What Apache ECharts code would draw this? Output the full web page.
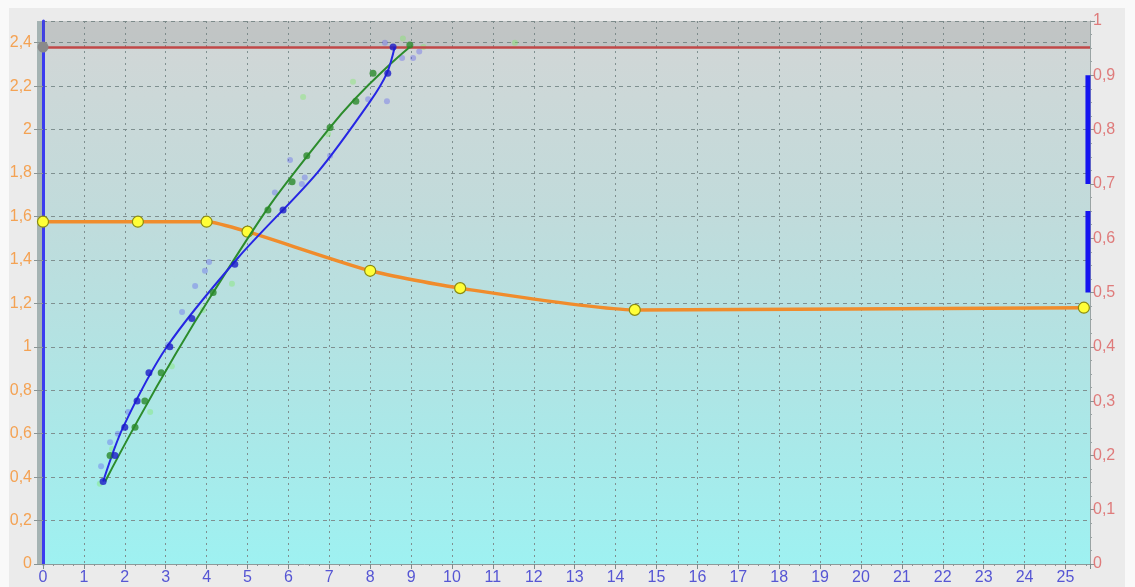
<!DOCTYPE html>
<html>
<head>
<meta charset="utf-8">
<script src="https://cdn.jsdelivr.net/npm/echarts@6.0.0/dist/echarts.min.js"></script>
<style>
  html, body { margin: 0; padding: 0; background: #f9f9f9; }
  #frame { position: absolute; left: 9px; top: 8px; width: 1116px; height: 579px; background: #ebebeb; }
  #chart { position: absolute; left: 0; top: 0; width: 1135px; height: 587px; }
</style>
</head>
<body>
<div id="frame"></div>
<div id="chart"></div>
<script>
// Orange profile curve (left axis) with its yellow nodes
const orangeX = [0, 2.32, 4.0, 5.0, 8.0, 10.2, 14.47, 25.45];
const orangeY = [1.576, 1.576, 1.576, 1.53, 1.35, 1.27, 1.17, 1.18];

// Blue fitted curve and its measured points
const blueFitX = [1.47, 1.96, 3.03, 4.77, 6.7, 8.0, 8.41, 8.6];
const blueFitY = [0.38, 0.63, 1.0, 1.41, 1.80, 2.13, 2.26, 2.38];
const blueDotX = [1.47, 1.76, 2.0, 2.3, 2.59, 3.1, 3.64, 4.69, 5.87, 8.43, 8.56];
const blueDotY = [0.38, 0.50, 0.63, 0.75, 0.88, 1.0, 1.13, 1.38, 1.63, 2.26, 2.38];

// Green fitted curve and its measured points
const greenFitX = [1.52, 4.16, 7.02, 8.97];
const greenFitY = [0.38, 1.25, 2.01, 2.38];
const greenDotX = [1.64, 2.25, 2.49, 2.89, 4.16, 5.5, 6.09, 6.45, 7.02, 7.65, 8.07, 8.97];
const greenDotY = [0.50, 0.63, 0.75, 0.88, 1.25, 1.63, 1.76, 1.88, 2.01, 2.13, 2.26, 2.39];

// Raw scattered readings
const faintBlueX = [1.42, 1.64, 1.83, 2.08, 3.06, 3.4, 3.72, 3.96, 4.06, 5.67, 6.04, 6.33, 6.4, 7.02, 7.95, 8.41, 8.36, 8.78, 9.05, 9.2];
const faintBlueY = [0.45, 0.56, 0.60, 0.70, 1.01, 1.16, 1.28, 1.35, 1.39, 1.71, 1.86, 1.75, 1.78, 1.88, 2.14, 2.13, 2.40, 2.33, 2.33, 2.36];
const faintGreenX = [1.39, 1.69, 2.62, 3.15, 3.91, 4.62, 6.36, 6.97, 7.58, 8.8, 9.3, 11.54];
const faintGreenY = [0.37, 0.53, 0.70, 0.91, 1.17, 1.29, 2.15, 1.98, 2.22, 2.42, 2.38, 2.40];

// Upper limit level (left axis)
const limitLevel = 2.38;

// Bands on the right axis, drawn at the right edge
const bandX = 25.55;
const bandLow = [0.7, 0.5];
const bandHigh = [0.9, 0.65];

const zip = (xs, ys) => xs.map((x, i) => [x, ys[i]]);
const comma = v => String(+v.toFixed(2)).replace('.', ',');

const labelFont = { fontFamily: 'Liberation Sans, Arial, sans-serif', fontSize: 16 };

const bandSeries = bandLow.map((lo, i) => ({
  type: 'line',
  yAxisIndex: 1,
  data: [[bandX, lo], [bandX, bandHigh[i]]],
  symbol: 'none',
  lineStyle: { color: '#1414f0', width: 5 },
  z: 6,
  silent: true
}));

const chart = echarts.init(document.getElementById('chart'), null, { renderer: 'canvas' });

chart.setOption({
  animation: false,
  backgroundColor: 'transparent',
  grid: {
    left: 43, right: 45, top: 21, bottom: 23,
    show: true,
    borderWidth: 0,
    backgroundColor: new echarts.graphic.LinearGradient(0, 0, 0, 1, [
      { offset: 0, color: '#d3d6d6' },
      { offset: 0.35, color: '#c1dbdb' },
      { offset: 0.7, color: '#ade6e6' },
      { offset: 1, color: '#9ef1f1' }
    ])
  },
  graphic: [{
    type: 'rect',
    shape: { x: 37, y: 21, width: 6, height: 543 },
    style: { fill: '#a5b3b3' },
    z: -1
  }],
  xAxis: {
    type: 'value',
    min: 0, max: 25.6, interval: 1,
    axisLine: { show: true, lineStyle: { color: '#8f9a9a', width: 1 } },
    axisTick: { show: true, length: 5, lineStyle: { color: '#7d8a8a' } },
    minorTick: { show: true, splitNumber: 4, length: 2, lineStyle: { color: '#8a9696' } },
    axisLabel: Object.assign({ color: '#5656d4', margin: 6, showMaxLabel: false }, labelFont),
    splitLine: { show: true, lineStyle: { color: '#7f9090', type: [2, 4], width: 1 } }
  },
  yAxis: [{
    type: 'value',
    min: 0, max: 2.5, interval: 0.2,
    position: 'left',
    axisLine: { show: true, onZero: false, lineStyle: { color: '#3b3bf0', width: 3 } },
    axisTick: { show: true, length: 9, lineStyle: { color: '#8a9494' } },
    axisLabel: Object.assign({ color: '#f4a253', margin: 11, showMaxLabel: false, formatter: comma }, labelFont),
    splitLine: { show: true, lineStyle: { color: '#7f9090', type: [4, 4], width: 1 } }
  }, {
    type: 'value',
    min: 0, max: 1, interval: 0.1,
    position: 'right',
    axisLine: { show: true, onZero: false, lineStyle: { color: '#9aa4a4', width: 1 } },
    axisTick: { show: true, length: 5, lineStyle: { color: '#8a9494' } },
    minorTick: { show: true, splitNumber: 4, length: 2, lineStyle: { color: '#9aa4a4' } },
    axisLabel: Object.assign({ color: '#df7b7b', margin: 3, formatter: comma }, labelFont),
    splitLine: { show: false }
  }],
  series: [
    {
      name: 'limit',
      type: 'line',
      data: [[0, limitLevel]],
      symbol: 'circle',
      symbolSize: 11,
      itemStyle: { color: '#8a8a8a' },
      lineStyle: { width: 0 },
      z: 7,
      markArea: {
        silent: true,
        itemStyle: { color: 'rgba(110,110,110,0.17)' },
        data: [[{ yAxis: limitLevel }, { yAxis: 2.5 }]]
      },
      markLine: {
        silent: true,
        symbol: 'none',
        label: { show: false },
        lineStyle: { color: '#c04848', width: 2.5, type: 'solid' },
        data: [{ yAxis: limitLevel }]
      }
    },
    {
      name: 'faintBlue',
      type: 'scatter',
      data: zip(faintBlueX, faintBlueY),
      symbolSize: 6,
      itemStyle: { color: 'rgba(90,90,240,0.45)' },
      z: 3
    },
    {
      name: 'faintGreen',
      type: 'scatter',
      data: zip(faintGreenX, faintGreenY),
      symbolSize: 6,
      itemStyle: { color: 'rgba(120,235,90,0.45)' },
      z: 3
    },
    {
      name: 'profile',
      type: 'line',
      data: zip(orangeX, orangeY),
      smooth: 0.2,
      symbol: 'circle',
      symbolSize: 11,
      showAllSymbol: true,
      lineStyle: { color: '#f08c2c', width: 3.5 },
      itemStyle: { color: '#ffff38', borderColor: '#8a8a10', borderWidth: 1.2 },
      z: 4
    },
    {
      name: 'greenFit',
      type: 'line',
      data: zip(greenFitX, greenFitY),
      smooth: 0.5,
      symbol: 'none',
      lineStyle: { color: '#2c8c2c', width: 2 },
      z: 5
    },
    {
      name: 'blueFit',
      type: 'line',
      data: zip(blueFitX, blueFitY),
      smooth: 0.3,
      symbol: 'none',
      lineStyle: { color: '#2626e4', width: 2 },
      z: 5
    },
    {
      name: 'greenDots',
      type: 'scatter',
      data: zip(greenDotX, greenDotY),
      symbolSize: 7,
      itemStyle: { color: '#2a8a2a' },
      z: 6
    },
    {
      name: 'blueDots',
      type: 'scatter',
      data: zip(blueDotX, blueDotY),
      symbolSize: 7,
      itemStyle: { color: '#1c1cc8' },
      z: 6
    }
  ].concat(bandSeries)
});
</script>
</body>
</html>
